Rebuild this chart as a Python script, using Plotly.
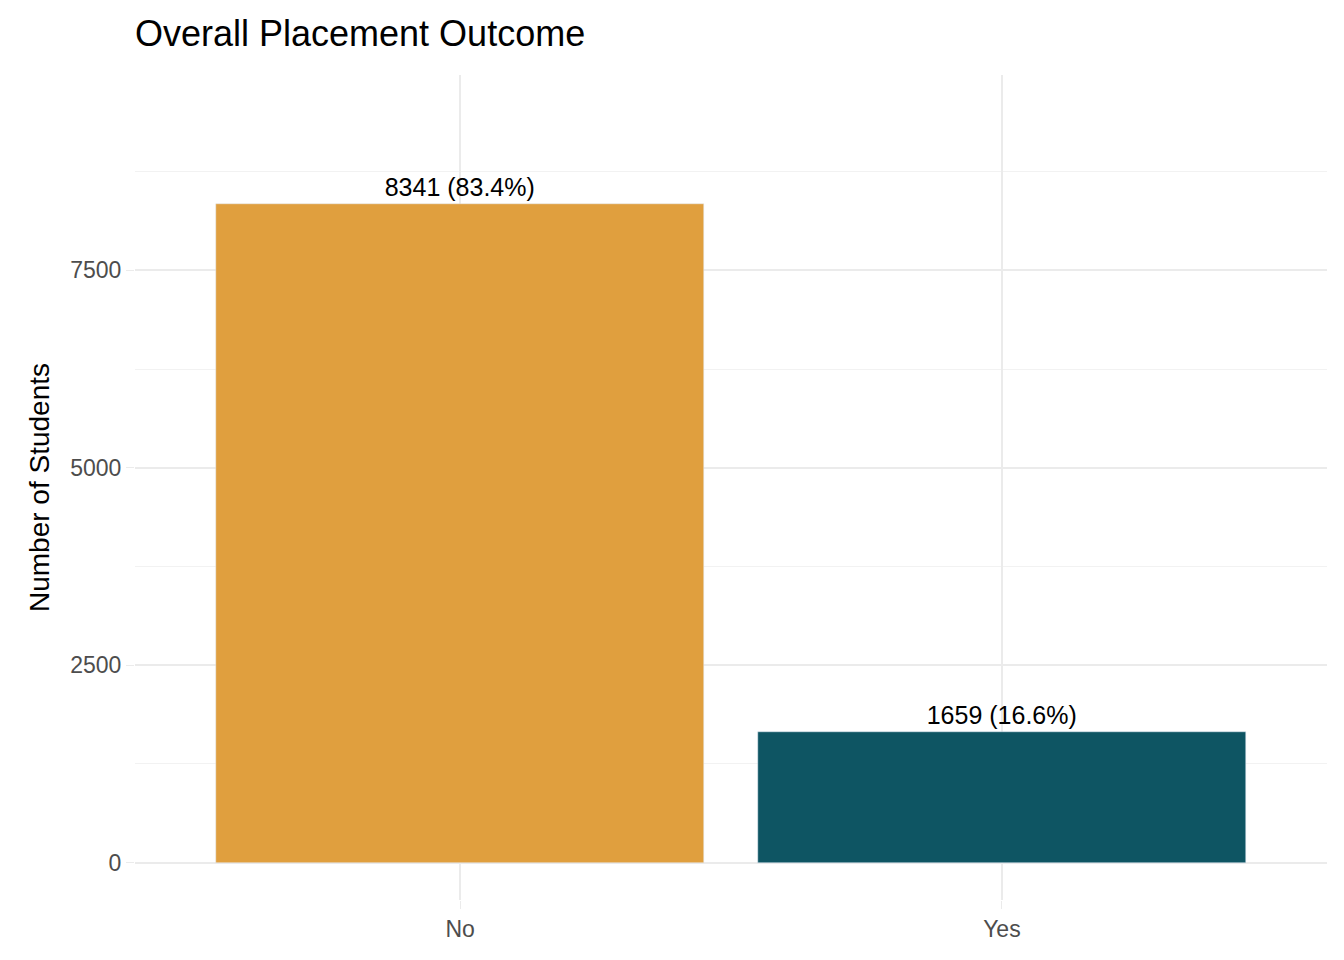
import plotly.graph_objects as go

outcomes = ["No", "Yes"]
counts = [8341, 1659]
labels = ["8341 (83.4%)", "1659 (16.6%)"]
bar_colors = ["#E09F3E", "#0E5563"]

W, H = 1328, 944

fig = go.Figure()
fig.add_trace(go.Bar(
    x=outcomes, y=counts, text=labels, textposition="outside",
    marker_color=bar_colors, width=0.9, cliponaxis=False,
    textfont=dict(size=25, color="black"),
))

fig.update_layout(
    width=W, height=H,
    margin=dict(l=127, r=9, t=67, b=52),
    plot_bgcolor="white", paper_bgcolor="white",
    font=dict(family="Liberation Sans, Arial, sans-serif"),
    title=dict(text="Overall Placement Outcome", x=127 / W, xanchor="left",
               y=1 - 25 / H, yanchor="middle", font=dict(size=36, color="black")),
    showlegend=False, bargap=0,
)
fig.update_xaxes(range=[-0.6, 1.6], showgrid=True, gridcolor="#EBEBEB", gridwidth=2,
                 tickfont=dict(size=23, color="#4D4D4D"), ticks="outside",
                 ticklen=8, tickcolor="#EBEBEB", zeroline=False)
fig.update_yaxes(range=[-475, 9975], tickvals=[0, 2500, 5000, 7500],
                 showgrid=True, gridcolor="#EBEBEB", gridwidth=2, zeroline=False,
                 minor=dict(tickvals=[1250, 3750, 6250, 8750], showgrid=True,
                            gridcolor="#F2F2F2", gridwidth=1),
                 tickfont=dict(size=23, color="#4D4D4D"), ticks="outside",
                 ticklen=8, tickcolor="#EBEBEB",
                 title=dict(text="Number of Students", font=dict(size=28, color="black"),
                            standoff=12))

fig.write_html("out.html")
